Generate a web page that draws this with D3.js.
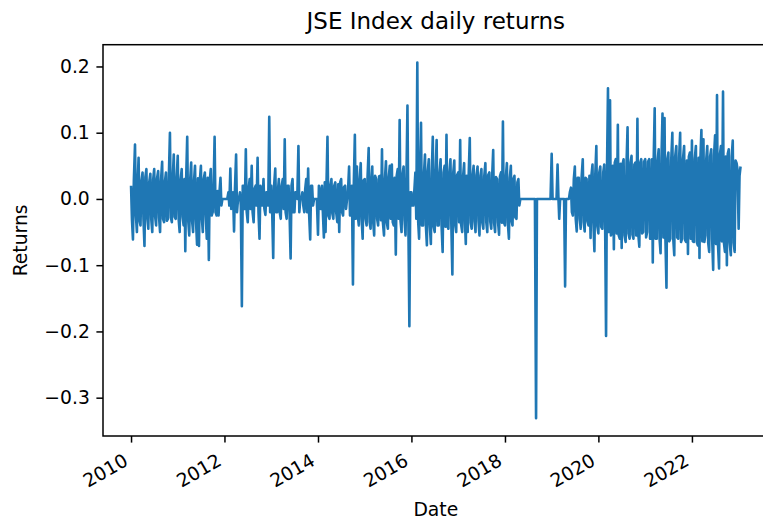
<!DOCTYPE html>
<html><head><meta charset="utf-8">
<script src="https://cdn.jsdelivr.net/npm/d3@7"></script>
<style>
body{margin:0;background:#fff}
svg text{font-family:"DejaVu Sans",sans-serif;fill:#000}
</style>
</head><body>
<svg id="chart" width="763" height="522"></svg>
<script>
// JSE index daily returns.
// "returnsYYYY": samples on the 1st and 16th of each month (envelope / spikes)
const returns2010 = [0.02,-0.061,0.082,-0.05,0.062,-0.04,0.04,-0.071,0.045,-0.045,0.038,-0.05,0.045,-0.04,0.042,-0.05,0.056,-0.035,0.04,-0.03,0.1,-0.035,0.067,-0.03];
const returns2011 = [0.065,-0.05,0.045,-0.04,-0.079,0.094,-0.055,0.055,-0.05,0.05,-0.069,-0.071,0.05,-0.05,0.04,-0.06,-0.092,0.045,-0.02,0.094,-0.025,-0.025,0.032,0.0];
const returns2012 = [0,0,0.01,0.046,0,-0.049,0.067,0,0.01,-0.162,0.02,0.075,-0.035,0.03,0.05,-0.035,0.02,0.062,-0.06,0.01,0.03,-0.024,0.01,0.124];
const returns2013 = [0.02,-0.089,0.046,-0.02,0.03,-0.03,0.03,0.09,-0.03,0.02,-0.09,0.03,-0.02,0.01,0.08,0,0.01,-0.02,0.03,0.046,-0.061,0.02,0,0];
const returns2014 = [-0.054,0.01,0.02,-0.058,-0.05,0.094,-0.03,0.03,-0.03,0.025,-0.035,-0.05,0.03,-0.025,0.02,0.0,0.049,-0.02,-0.129,0.097,0.049,-0.04,0.054,-0.06];
const returns2015 = [0.03,-0.04,0.077,-0.045,0.049,-0.055,0.03,-0.04,0.035,0.075,-0.055,0.057,-0.045,0.05,0.052,-0.04,-0.084,0.045,0.119,-0.05,0.049,-0.055,0.141,-0.192];
const returns2016 = [0.01,-0.01,0.04,0.206,-0.06,0.115,-0.04,0.067,-0.07,0.06,-0.068,0.094,-0.05,0.089,-0.04,0.06,-0.08,0.05,0.097,-0.045,0.06,-0.114,0.058,-0.05];
const returns2017 = [0.04,0.089,-0.05,0.054,-0.068,-0.05,0.092,-0.045,0.05,-0.05,0.049,-0.055,0.045,-0.045,0.054,-0.05,0.04,-0.045,0.074,-0.05,0.03,-0.054,0.04,0.117];
const returns2018 = [-0.04,0.054,-0.06,0.05,-0.04,0.035,-0.03,0.03,0,0,0,0,0,0,0,0,-0.331,0,0,0,0,0,0,0];
const returns2019 = [0.068,0,0,0.052,-0.03,0,0,-0.132,0,0,0.017,-0.025,0.049,-0.049,0.032,-0.045,0.06,-0.049,0.03,-0.04,-0.059,0.052,-0.079,0.08];
const returns2020 = [-0.052,0.049,-0.045,0.052,-0.207,0.167,0.149,-0.05,-0.076,0.06,0.112,-0.06,-0.074,0.06,-0.065,0.108,-0.06,0.065,-0.06,0.055,0.121,-0.072,0.06,-0.05];
const returns2021 = [0.06,-0.05,0.06,-0.06,-0.096,0.137,-0.06,0.075,-0.082,0.129,0.122,-0.134,0.07,-0.06,0.1,-0.085,0.08,-0.06,0.1,-0.06,0.08,-0.065,-0.083,0.07];
const returns2022 = [0.088,-0.065,0.08,-0.07,-0.089,0.104,0.09,-0.055,0.08,-0.08,0.075,-0.107,0.096,0.157,-0.105,0.08,0.162,-0.08,-0.1,0.075,-0.085,0.088,-0.08,0.054];
const returns2023 = [-0.045,0.049];

// "coreYYYY": samples on the 8th and 23rd of each month (dense central band)
const core2010 = [-0.03,0.028,-0.025,0.03,-0.032,0.027,-0.03,0.033,-0.028,0.025,-0.03,0.029,-0.026,0.031,-0.028,0.027,-0.03,0.026,-0.033,0.03,-0.028,0.032,-0.027,0.03];
const core2011 = [-0.03,0.028,-0.027,0.03,0.032,-0.03,0.028,-0.033,0.027,-0.03,0.031,0.029,-0.028,0.03,-0.026,0.032,0.027,-0.025,0.015,-0.02,0.012,0.01,-0.01,0];
const core2012 = [0,0,-0.01,-0.015,0.01,0.015,-0.02,0,-0.01,0.02,-0.015,-0.02,0.015,-0.015,-0.02,0.015,-0.01,-0.02,0.02,-0.01,-0.015,0.01,-0.01,-0.02];
const core2013 = [-0.02,0.02,-0.02,0.015,-0.02,0.02,-0.015,-0.02,0.02,-0.015,0.02,-0.02,0.01,0,-0.02,0,-0.01,0.015,-0.02,-0.02,0.02,-0.01,0,0];
const core2014 = [0.02,-0.015,-0.02,0.025,0.02,-0.025,0.02,-0.022,0.02,-0.02,0.022,0.025,-0.02,0.018,-0.015,0.01,-0.025,0.02,0.025,-0.03,-0.025,0.03,-0.03,0.028];
const core2015 = [-0.03,0.032,-0.035,0.03,-0.033,0.035,-0.03,0.034,-0.032,-0.035,0.03,-0.036,0.033,-0.03,-0.035,0.032,0.035,-0.03,-0.033,0.036,-0.032,0.03,-0.03,0.01];
const core2016 = [-0.01,0.01,-0.03,-0.035,0.04,-0.04,0.038,-0.04,0.042,-0.038,0.04,-0.042,0.038,-0.04,0.04,-0.038,0.04,-0.042,-0.04,0.038,-0.04,0.04,-0.038,0.036];
const core2017 = [-0.035,-0.038,0.035,-0.037,0.035,0.033,-0.036,0.035,-0.034,0.036,-0.033,0.035,-0.036,0.034,-0.035,0.036,-0.034,0.035,-0.036,0.033,-0.035,0.034,-0.036,-0.035];
const core2018 = [0.033,-0.035,0.032,-0.034,0.03,-0.028,0.025,-0.01,0,0,0,0,0,0,0,0,0,0,0,0,0,0,0,0];
const core2019 = [0,0,0,0,0,0,0,0,0,0.01,-0.02,0.03,-0.03,0.032,-0.03,0.033,-0.035,0.032,-0.034,0.035,0.036,-0.035,0.038,-0.04];
const core2020 = [0.04,-0.042,0.04,-0.045,0.04,-0.05,-0.055,0.05,0.055,-0.052,-0.055,0.053,0.052,-0.055,0.054,-0.052,0.055,-0.054,0.052,-0.055,-0.054,0.055,-0.052,0.056];
const core2021 = [-0.058,0.056,-0.06,0.06,0.058,-0.06,0.058,-0.06,0.062,-0.058,-0.062,0.06,-0.064,0.058,-0.06,0.064,-0.058,0.062,-0.065,0.06,-0.062,0.058,0.064,-0.06];
const core2022 = [-0.064,0.06,-0.065,0.062,0.06,-0.064,-0.065,0.06,-0.066,0.064,-0.06,0.066,-0.068,-0.066,0.068,-0.064,-0.066,0.064,0.068,-0.066,0.064,-0.066,0.058,0.045];
const core2023 = [0.035];

const years = [2010,2011,2012,2013,2014,2015,2016,2017,2018,2019,2020,2021,2022,2023];
const yTickValues = [-0.3,-0.2,-0.1,0.0,0.1,0.2];
const titleText = "JSE Index daily returns";
const xLabelText = "Date";
const yLabelText = "Returns";

const yearlyEnvelope = [returns2010,returns2011,returns2012,returns2013,returns2014,returns2015,returns2016,
  returns2017,returns2018,returns2019,returns2020,returns2021,returns2022,returns2023];
const yearlyCore = [core2010,core2011,core2012,core2013,core2014,core2015,core2016,
  core2017,core2018,core2019,core2020,core2021,core2022,core2023];

const data = [];
yearlyEnvelope.forEach((arr, k) => arr.forEach((v, i) => {
  data.push({date: new Date(years[k], Math.floor(i / 2), i % 2 ? 16 : 1), value: v});
}));
yearlyCore.forEach((arr, k) => arr.forEach((v, i) => {
  data.push({date: new Date(years[k], Math.floor(i / 2), i % 2 ? 23 : 8), value: v});
}));
data.sort((a, b) => a.date - b.date);

// layout
const plotLeft = 103, plotTop = 44.7, plotW = 665.6, plotH = 391.3;
const fs = 18.75, titleFs = 23, tickLen = 6.6, tickPad = 6.6;
const color = "#1f77b4";

const svg = d3.select("#chart");

const dExt = d3.extent(data, d => d.date);
const dPad = (dExt[1] - dExt[0]) * 0.046;
const x = d3.scaleTime()
  .domain([new Date(+dExt[0] - dPad), new Date(+dExt[1] + dPad)])
  .range([plotLeft, plotLeft + plotW]);

const vExt = d3.extent(data, d => d.value);
const vPad = (vExt[1] - vExt[0]) * 0.05;
const y = d3.scaleLinear()
  .domain([vExt[0] - vPad, vExt[1] + vPad])
  .range([plotTop + plotH, plotTop]);

svg.append("defs").append("clipPath").attr("id", "clip")
  .append("rect").attr("x", plotLeft).attr("y", plotTop).attr("width", plotW).attr("height", plotH);

const line = d3.line().x(d => x(d.date)).y(d => y(d.value));

svg.append("path")
  .datum(data)
  .attr("clip-path", "url(#clip)")
  .attr("d", line)
  .attr("fill", "none")
  .attr("stroke", color)
  .attr("stroke-width", 2.6)
  .attr("stroke-linejoin", "round")
  .attr("stroke-linecap", "butt");

// frame
svg.append("rect")
  .attr("x", plotLeft).attr("y", plotTop).attr("width", plotW).attr("height", plotH)
  .attr("fill", "none").attr("stroke", "#000").attr("stroke-width", 1.5);

// x axis
const gx = svg.append("g")
  .attr("transform", `translate(0,${plotTop + plotH})`)
  .call(d3.axisBottom(x)
    .ticks(d3.timeYear.every(2))
    .tickFormat(d3.timeFormat("%Y"))
    .tickSize(tickLen).tickPadding(tickPad).tickSizeOuter(0));
gx.select(".domain").remove();
gx.attr("font-size", null).attr("font-family", null);
gx.selectAll(".tick line").attr("stroke", "#000").attr("stroke-width", 1.5);
const h = 1.164 * fs;
gx.selectAll(".tick text")
  .attr("font-size", fs)
  .attr("text-anchor", "end")
  .attr("x", 0).attr("y", 0)
  .attr("dy", (0.928 * fs) + "px")
  .attr("transform", `translate(${-0.5 * h},${tickLen + tickPad}) rotate(-30)`);

// y axis
const gy = svg.append("g")
  .attr("transform", `translate(${plotLeft},0)`)
  .call(d3.axisLeft(y)
    .tickValues(yTickValues)
    .tickFormat(d3.format(".1f"))
    .tickSize(tickLen).tickPadding(tickPad).tickSizeOuter(0));
gy.select(".domain").remove();
gy.attr("font-size", null).attr("font-family", null);
gy.selectAll(".tick line").attr("stroke", "#000").attr("stroke-width", 1.5);
gy.selectAll(".tick text").attr("font-size", fs);

// title
svg.append("text")
  .attr("x", plotLeft + plotW / 2).attr("y", 29)
  .attr("text-anchor", "middle")
  .attr("font-size", titleFs)
  .text(titleText);

// axis labels
svg.append("text")
  .attr("x", plotLeft + plotW / 2).attr("y", 516)
  .attr("text-anchor", "middle")
  .attr("font-size", fs)
  .text(xLabelText);

svg.append("text")
  .attr("transform", `translate(27,${plotTop + plotH / 2}) rotate(-90)`)
  .attr("text-anchor", "middle")
  .attr("font-size", fs)
  .text(yLabelText);
</script>
</body></html>
